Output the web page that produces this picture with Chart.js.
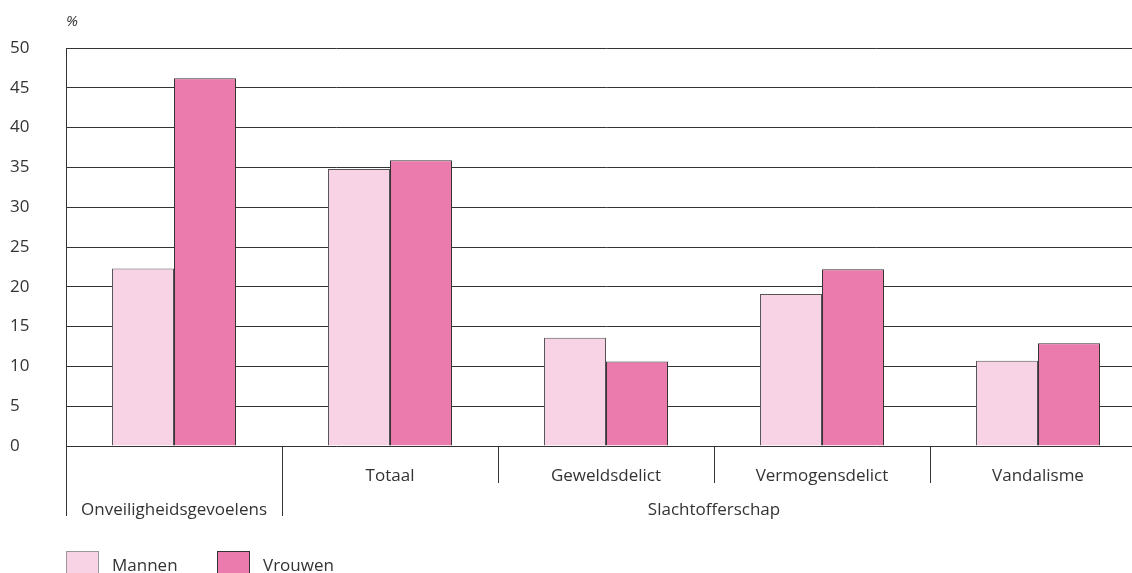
<!DOCTYPE html>
<html>
<head>
<meta charset="utf-8">
<script src="https://cdn.jsdelivr.net/npm/chart.js@4.4.0/dist/chart.umd.min.js"></script>
<style>
  html, body { margin: 0; padding: 0; background: #fff; overflow: hidden; }
  #wrap { width: 1150px; height: 573px; position: relative; }
</style>
</head>
<body>
<div id="wrap"><canvas id="chart" width="1150" height="573"></canvas></div>
<script>
const categories = ['Onveiligheidsgevoelens', 'Totaal', 'Geweldsdelict', 'Vermogensdelict', 'Vandalisme'];
const groupLabel = 'Slachtofferschap';
const mannen = [22.3, 34.8, 13.6, 19.1, 10.7];
const vrouwen = [46.2, 35.9, 10.6, 22.2, 12.9];
const seriesNames = ['Mannen', 'Vrouwen'];
const seriesColors = ['#f8d3e5', '#ec7bad'];

const FONT = '"Open Sans", sans-serif';
const TEXT = '#333';

// draws category labels, separators, group label, unit and legend
const annotations = {
    id: 'annotations',
    afterDraw(chart) {
        const ctx = chart.ctx;
        const x = chart.scales.x;
        const area = chart.chartArea;
        const half = (x.getPixelForValue(1) - x.getPixelForValue(0)) / 2;
        const base = area.bottom;

        ctx.save();
        ctx.strokeStyle = '#333';
        ctx.lineWidth = 1;
        ctx.fillStyle = TEXT;
        ctx.font = '17px ' + FONT;
        ctx.textAlign = 'center';
        ctx.textBaseline = 'middle';

        categories.forEach((c, i) => {
            const cx = x.getPixelForValue(i);
            const y = i === 0 ? base + 64 : base + 30;
            ctx.fillText(c, cx, y);
        });

        // separators
        const edges = [];
        for (let i = 0; i < categories.length; i++) edges.push(x.getPixelForValue(i) - half);
        edges.forEach((ex, i) => {
            const len = i <= 1 ? 70 : 37;
            const px = Math.round(ex) + 0.5;
            ctx.beginPath();
            ctx.moveTo(px, base);
            ctx.lineTo(px, base + len);
            ctx.stroke();
        });

        // group label
        const gx = (x.getPixelForValue(1) - half + x.getPixelForValue(categories.length - 1) + half) / 2;
        ctx.fillText(groupLabel, gx, base + 64);

        // unit
        ctx.font = 'italic 15px ' + FONT;
        ctx.textAlign = 'left';
        ctx.fillText('%', area.left, 22);

        // legend
        ctx.font = '17px ' + FONT;
        const lx = [area.left, area.left + 151];
        seriesNames.forEach((n, i) => {
            ctx.fillStyle = seriesColors[i];
            ctx.fillRect(lx[i] + 0.5, 551.5, 32, 22);
            ctx.strokeStyle = i === 0 ? '#999' : '#333';
            ctx.strokeRect(lx[i] + 0.5, 551.5, 32, 22);
            ctx.fillStyle = TEXT;
            ctx.fillText(n, lx[i] + 46, 566);
        });
        ctx.restore();
    }
};

new Chart(document.getElementById('chart').getContext('2d'), {
    type: 'bar',
    data: {
        labels: categories,
        datasets: [
            {
                label: seriesNames[0],
                data: mannen,
                backgroundColor: seriesColors[0],
                borderColor: '#555',
                borderWidth: 1,
                categoryPercentage: 0.574,
                barPercentage: 1
            },
            {
                label: seriesNames[1],
                data: vrouwen,
                backgroundColor: seriesColors[1],
                borderColor: '#333',
                borderWidth: 1,
                categoryPercentage: 0.574,
                barPercentage: 1
            }
        ]
    },
    options: {
        responsive: false,
        animation: false,
        layout: { padding: { top: 48, left: 10, right: 4, bottom: 0 } },
        plugins: {
            legend: { display: false },
            tooltip: { enabled: false }
        },
        scales: {
            x: {
                ticks: { display: false },
                grid: { display: false },
                border: { display: false },
                afterFit: (s) => { s.height = 127; }
            },
            y: {
                min: 0,
                max: 50,
                ticks: {
                    stepSize: 5,
                    crossAlign: 'far',
                    padding: 0,
                    color: TEXT,
                    font: { family: FONT, size: 17 }
                },
                grid: { color: '#333', lineWidth: 1, drawTicks: false },
                border: { display: true, color: '#333', width: 1 },
                afterFit: (s) => { s.width = 56; }
            }
        }
    },
    plugins: [annotations]
});
</script>
</body>
</html>
